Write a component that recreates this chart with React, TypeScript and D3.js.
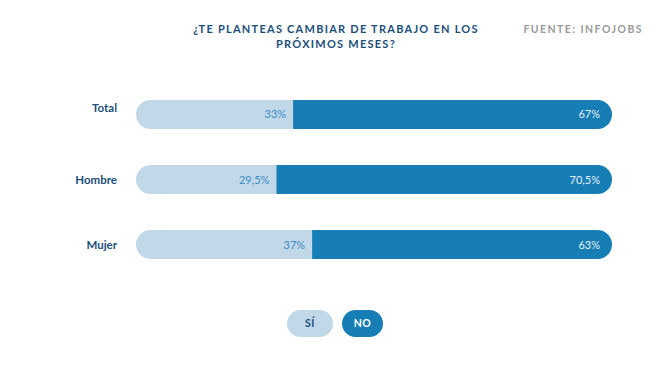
import React from "react";
import * as d3 from "d3";

const categories = ["Total", "Hombre", "Mujer"];
const siValues = [33, 29.5, 37];
const noValues = [67, 70.5, 63];
const siLabels = ["33%", "29,5%", "37%"];
const noLabels = ["67%", "70,5%", "63%"];
const titleLines = ["¿TE PLANTEAS CAMBIAR DE TRABAJO EN LOS", "PRÓXIMOS MESES?"];
const sourceText = "FUENTE: INFOJOBS";
const legendItems = ["SÍ", "NO"];

const W = 672;
const H = 378;
const LIGHT = "#c0d8e8";
const DARK = "#177db5";
const NAVY = "#1b4f7a";
const FONT = "Lato, 'Open Sans', sans-serif";

export default function App() {
  const x = d3.scaleLinear().domain([0, 100]).range([136, 612]);
  const y = d3.scaleBand().domain(categories).range([100, 259]).paddingInner(0.554).paddingOuter(0);
  const bh = y.bandwidth();
  const r = bh / 2;

  const pillPath = (x0: number, x1: number, yc: number, left: boolean, right: boolean) => {
    const y0 = yc - r, y1 = yc + r;
    const p = d3.path();
    if (left) {
      p.moveTo(x0 + r, y0);
    } else p.moveTo(x0, y0);
    if (right) {
      p.lineTo(x1 - r, y0);
      p.arc(x1 - r, yc, r, -Math.PI / 2, Math.PI / 2);
    } else {
      p.lineTo(x1, y0);
      p.lineTo(x1, y1);
    }
    if (left) {
      p.lineTo(x0 + r, y1);
      p.arc(x0 + r, yc, r, Math.PI / 2, (3 * Math.PI) / 2);
    } else {
      p.lineTo(x0, y1);
    }
    p.closePath();
    return p.toString();
  };

  return (
    <svg width={W} height={H} style={{ position: "absolute", left: 0, top: 0, background: "#fff" }} fontFamily={FONT}>
      <rect width={W} height={H} fill="#fff" />
      {titleLines.map((t, i) => (
        <text key={i} x={336} y={33 + i * 15} textAnchor="middle" fontSize={11} fontWeight={700} fill={NAVY} letterSpacing={1.25}>
          {t}
        </text>
      ))}
      <text x={643} y={33} textAnchor="end" fontSize={10.5} fontWeight={700} fill="#9a9a9a" letterSpacing={1.45}>
        {sourceText}
      </text>
      {categories.map((c, i) => {
        const yc = (y(c) as number) + y.bandwidth() / 2;
        const xs = x(siValues[i]);
        return (
          <g key={c}>
            <text x={117} y={yc + (i === 0 ? -2.5 : 4)} textAnchor="end" fontSize={11.5} fontWeight={700} fill={NAVY}>
              {c}
            </text>
            <path d={pillPath(x(0), xs, yc, true, false)} fill={LIGHT} />
            <path d={pillPath(xs, x(siValues[i] + noValues[i]), yc, false, true)} fill={DARK} />
            <text x={xs - 7} y={yc + 4} textAnchor="end" fontSize={11} fill="#3d8cc6">
              {siLabels[i]}
            </text>
            <text x={x(100) - 12} y={yc + 4} textAnchor="end" fontSize={11} fill="#e6f0f8">
              {noLabels[i]}
            </text>
          </g>
        );
      })}
      {legendItems.map((l, i) => {
        const lx = i === 0 ? 287 : 342;
        const lw = i === 0 ? 46 : 41;
        return (
          <g key={l}>
            <rect x={lx} y={310} width={lw} height={27} rx={13.5} fill={i === 0 ? LIGHT : DARK} />
            <text x={lx + lw / 2} y={327} textAnchor="middle" fontSize={10.5} fontWeight={700} fill={i === 0 ? NAVY : "#fff"} letterSpacing={0.5}>
              {l}
            </text>
          </g>
        );
      })}
    </svg>
  );
}
